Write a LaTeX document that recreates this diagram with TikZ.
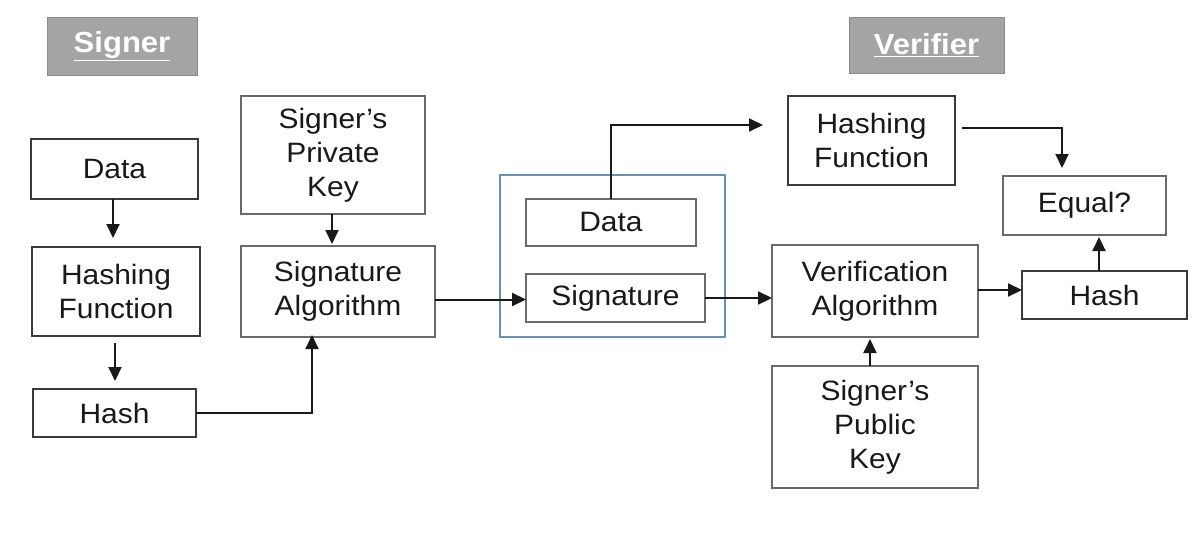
\documentclass[tikz,border=0pt]{standalone}
\usepackage{fontspec}
\setmainfont{Liberation Sans}[FakeStretch=1.07]
\usetikzlibrary{arrows.meta,calc}
\definecolor{boxline}{HTML}{3A3A3A}
\definecolor{lightline}{HTML}{6A6A6A}
\definecolor{labfill}{HTML}{A4A4A4}
\definecolor{contline}{HTML}{6A90B0}
\begin{document}
\begin{tikzpicture}[x=1pt,y=-1pt,
  every node/.style={inner sep=0pt, outer sep=0pt},
  blk/.style={draw=boxline, line width=1.8pt, fill=white, align=center,
    font=\fontsize{28}{34}\selectfont, text=black!90},
  lblk/.style={blk, draw=lightline, line width=1.5pt},
  lab/.style={fill=labfill, draw=labfill!85!black, line width=0.8pt, text=white,
    font=\fontsize{29}{34}\selectfont\bfseries},
  cont/.style={draw=contline, line width=1.8pt},
  arr/.style={draw=black!90, line width=2pt, -{Triangle[length=14pt,width=13pt]}}
]
\useasboundingbox (0,0) rectangle (1204,546);
\fill[white] (0,0) rectangle (1204,546);

% section labels
\node[lab, minimum width=150pt, minimum height=58pt] (signer) at (122,46) {\underline{Signer}};
\node[lab, minimum width=155pt, minimum height=56pt] (verifier) at (926.5,45) {\underline{Verifier}};

% signer side
\node[blk, minimum width=167pt, minimum height=60pt] (data) at (114.5,169) {Data};
\node[blk, minimum width=168pt, minimum height=89pt] (hashf) at (116,291.5) {Hashing\\Function};
\node[blk, minimum width=163pt, minimum height=48pt] (hash1) at (114.5,413) {Hash};
\node[lblk, minimum width=184pt, minimum height=118pt] (priv) at (333,155) {Signer's\\Private\\Key};
\node[lblk, minimum width=194pt, minimum height=91pt] (sigalg) at (338,291.5) {Signature\\Algorithm};

% container
\node[cont, minimum width=225pt, minimum height=162pt] (box) at (612.5,256) {};
\node[lblk, minimum width=170pt, minimum height=47pt] (datain) at (611,222.5) {\raisebox{-4pt}{Data}};
\node[lblk, minimum width=179pt, minimum height=48pt] (sig) at (615.5,298) {Signature};

% verifier side
\node[blk, minimum width=167pt, minimum height=89pt] (hashf2) at (871.5,140.5) {Hashing\\Function};
\node[lblk, minimum width=206pt, minimum height=92pt] (verif) at (875,291) {Verification\\Algorithm};
\node[lblk, minimum width=206pt, minimum height=122pt] (pub) at (875,427) {Signer's\\Public\\Key};
\node[lblk, minimum width=163pt, minimum height=59pt] (equal) at (1084.5,205.5) {Equal?};
\node[blk, minimum width=165pt, minimum height=48pt] (hash2) at (1104.5,295) {Hash};

\coordinate (dtip) at (763,125);

% connectors
\draw[arr, shorten >=9pt] ([xshift=-1.5pt]data.south) -- ([xshift=-1.5pt]data.south |- hashf.north);
\draw[arr, shorten <=7pt, shorten >=8pt] ([xshift=-1pt]hashf.south) -- ([xshift=-1pt]hashf.south |- hash1.north);
\draw[arr, shorten >=-2pt] (hash1.east) -| ([xshift=-26pt]sigalg.south);
\draw[arr, shorten >=2pt] ([xshift=-1pt]priv.south) -- ([xshift=-1pt]priv.south |- sigalg.north);
\draw[arr] ([yshift=-8pt]sigalg.east) -- ([yshift=-8pt]sigalg.east -| sig.west);
\draw[arr] (datain.north) |- (dtip);
\draw[arr] (sig.east) -- (sig.east -| verif.west);
\draw[arr] ([yshift=1pt]verif.east) -- ([yshift=1pt]verif.east -| hash2.west);
\draw[arr, shorten >=2pt] ([xshift=-5.5pt]hash2.north) -- ([xshift=-5.5pt]hash2.north |- equal.south);
\draw[arr, shorten >=8pt] ([xshift=7pt,yshift=12.5pt]hashf2.east) -| ([xshift=-22.5pt]equal.north);
\draw[arr, shorten >=2pt] ([xshift=-5pt]pub.north) -- ([xshift=-5pt]pub.north |- verif.south);
\end{tikzpicture}
\end{document}
